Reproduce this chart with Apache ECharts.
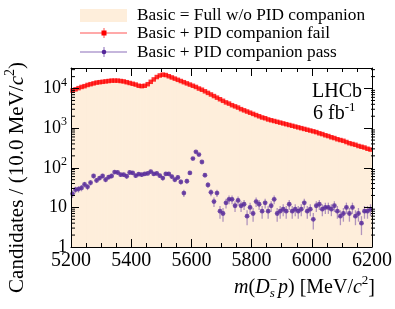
<!DOCTYPE html>
<html><head><meta charset="utf-8">
<script src="https://cdn.jsdelivr.net/npm/echarts@6/dist/echarts.min.js"></script>
<style>html,body{margin:0;padding:0;background:#fff}#c{width:395px;height:309px}</style>
</head><body><div id="c"></div>
<script>
// ---- data ----
const BIN_LO = 5200, BIN_W = 10;
const xTicks = [5200, 5400, 5600, 5800, 6000, 6200];
const yTickLabels = ['1', '10', '10^2', '10^3', '10^4'];
const seriesNames = ['Basic = Full w/o PID companion', 'Basic + PID companion fail', 'Basic + PID companion pass'];
const failCounts = [
 8913, 9550, 10233, 10965, 11482, 12303, 12882, 13490, 14125, 14454,
 14791, 15136, 15488, 15849, 15849, 15849, 15488, 15136, 14454, 13804,
 13183, 12589, 11749, 11482, 11749, 12882, 14791, 16982, 19498, 21380,
 22387, 21878, 20417, 19055, 17783, 16596, 15488, 14454, 13490, 12589,
 11749, 10965, 10000, 9333, 8511, 7762, 7079, 6457, 5888, 5370,
 4898, 4467, 4169, 3802, 3548, 3311, 3020, 2818, 2630, 2455,
 2291, 2138, 1995, 1862, 1778, 1660, 1585, 1514, 1445, 1380,
 1318, 1259, 1202, 1148, 1096, 1047, 1000, 955, 912, 871,
 832, 794, 741, 708, 661, 631, 589, 562, 525, 501,
 479, 447, 417, 398, 380, 355, 339, 324, 302, 288];
const passCounts = [
 22, 28, 29, 31, 38, 33, 42, 62, 48, 55,
 62, 50, 58, 62, 78, 76, 67, 67, 61, 76,
 74, 63, 69, 67, 70, 72, 80, 70, 72, 63,
 55, 70, 70, 60, 50, 57, 44, 23, 46, 74,
 171, 252, 215, 140, 65, 37, 24, 14, 23, 8,
 7, 13, 16, 16, 11, 15, 11, 12, 6, 10,
 7, 14, 12, 8, 13, 8, 11, 16, 7, 8,
 9, 8, 12, 8, 9, 8, 9, 13, 8, 9,
 5, 11, 12, 9, 10, 10, 9, 11, 8, 6,
 7, 10, 7, 10, 6, 7, 4, 8, 8, 9];

// ---- derived ----
const bins = failCounts.map((_, i) => BIN_LO + BIN_W * (i + 0.5));
const basicCounts = failCounts.map((v, i) => v + passCounts[i]);
const yMinor = [];
for (let k = 0; k <= 4; k++) for (let m = 2; m <= 9; m++) { const v = m * Math.pow(10, k); if (v < 33000) yMinor.push(v); }

const FONT = 'Liberation Serif';
const FILL = '#feeedb', RED = '#ff0000', PUR = '#55289a', PUR_L = 'rgba(85,40,154,0.45)';
const X0 = 71, X1 = 375;

// text measuring for composed titles
const mctx = document.createElement('canvas').getContext('2d');
function tw(txt, font) { mctx.font = font; return mctx.measureText(txt).width; }

const chart = echarts.init(document.getElementById('c'), null, {renderer: 'canvas'});

function yLabel(v) {
  const e = Math.round(Math.log10(v));
  const s = yTickLabels[e];
  if (!s) return '';
  if (s.indexOf('^') < 0) return '{b|' + s + '}';
  const p = s.split('^');
  return '{b|' + p[0] + '}{s|' + p[1] + '}';
}
const yRich = {b: {fontFamily: FONT, fontSize: 18, color: '#000'}, s: {fontFamily: FONT, fontSize: 12, color: '#000', padding: [0, 0, 12, 0]}};

const axisCommonX = {
  type: 'value', min: 5200, max: 6200, interval: 200, z: 10,
  axisLine: {show: true, onZero: false, lineStyle: {color: '#000', width: 1}},
  axisTick: {show: true, inside: true, length: 8, lineStyle: {color: '#000', width: 1}},
  minorTick: {show: true, splitNumber: 4, length: 4, lineStyle: {color: '#000', width: 1}},
  splitLine: {show: false}, minorSplitLine: {show: false}
};
const axisCommonY = {
  type: 'log', logBase: 10, min: 1, max: 33000, z: 10,
  axisLine: {show: true, onZero: false, lineStyle: {color: '#000', width: 1}},
  axisTick: {show: true, inside: true, length: 8, lineStyle: {color: '#000', width: 1}},
  minorTick: {show: false}, splitLine: {show: false}
};

// x-axis title composed right-to-left from x = X1
const XT_FS = 20, XT_Y = 288;
const fN = XT_FS + 'px "Liberation Serif"', fI = 'italic ' + XT_FS + 'px "Liberation Serif"';
const fSup = '13px "Liberation Serif"', fSubI = 'italic 13px "Liberation Serif"';
const xTitleParts = [
  {t: ']', f: fN, dy: 0}, {t: '2', f: fSup, dy: -7}, {t: 'c', f: fI, dy: 0},
  {t: ') [MeV/', f: fN, dy: 0}, {t: 'p', f: fI, dy: 0}
];
const xTitleGraphics = [];
let cx = X1;
xTitleParts.forEach(p => { cx -= tw(p.t, p.f); xTitleGraphics.push({type: 'text', x: cx, y: XT_Y + p.dy, style: {text: p.t, font: p.f, fill: '#000', verticalAlign: 'middle'}}); });
const wSS = Math.max(tw('s', fSubI), tw('\u2212', fSup)) + 1;
cx -= wSS;
xTitleGraphics.push({type: 'text', x: cx, y: XT_Y + 6, style: {text: 's', font: fSubI, fill: '#000', verticalAlign: 'middle'}});
xTitleGraphics.push({type: 'text', x: cx, y: XT_Y - 7, style: {text: '\u2212', font: fSup, fill: '#000', verticalAlign: 'middle'}});
[{t: 'D', f: fI}, {t: '(', f: fN}, {t: 'm', f: fI}].forEach(p => { cx -= tw(p.t, p.f); xTitleGraphics.push({type: 'text', x: cx, y: XT_Y, style: {text: p.t, font: p.f, fill: '#000', verticalAlign: 'middle'}}); });

const LEG_F = '17.3px "Liberation Serif"';

const option = {
  animation: false,
  grid: {left: X0, right: 395 - X1, top: 68, bottom: 62, show: false},
  xAxis: [
    Object.assign({}, axisCommonX, {position: 'bottom',
      axisLabel: {fontFamily: FONT, fontSize: 20, color: '#000', margin: 4,
        formatter: v => xTicks.indexOf(v) >= 0 ? String(v) : ''}}),
    Object.assign({}, axisCommonX, {position: 'top', axisLabel: {show: false}})
  ],
  yAxis: [
    Object.assign({}, axisCommonY, {position: 'left',
      axisLabel: {margin: 4, showMaxLabel: false, formatter: yLabel, rich: yRich}}),
    Object.assign({}, axisCommonY, {position: 'right', axisLabel: {show: false}})
  ],
  series: [
    {
      name: seriesNames[0], type: 'custom', z: 1, silent: true,
      data: bins.map((b, i) => [b, basicCounts[i]]),
      renderItem: (params, api) => {
        const xc = api.value(0), v = api.value(1);
        const p0 = api.coord([xc - BIN_W / 2, v]);
        const p1 = api.coord([xc + BIN_W / 2, 1]);
        return {type: 'rect', shape: {x: p0[0], y: p0[1], width: p1[0] - p0[0] + 0.6, height: p1[1] - p0[1]},
          style: {fill: FILL}};
      }
    },
    {
      name: seriesNames[1], type: 'scatter', z: 3, symbol: 'rect', symbolSize: 4.5,
      itemStyle: {color: RED}, data: bins.map((b, i) => [b, failCounts[i]])
    },
    {
      name: seriesNames[2] + ' err', type: 'custom', z: 4, silent: true,
      data: bins.map((b, i) => [b, passCounts[i]]),
      renderItem: (params, api) => {
        const xc = api.value(0), v = api.value(1), e = Math.sqrt(v);
        const lo = Math.max(v - e, 1.0001);
        const pt = api.coord([xc, v + e]), pb = api.coord([xc, lo]);
        const pl = api.coord([xc - BIN_W / 2, v]), pr = api.coord([xc + BIN_W / 2, v]);
        return {type: 'group', children: [
          {type: 'line', shape: {x1: pt[0], y1: pt[1], x2: pb[0], y2: pb[1]}, style: {stroke: PUR_L, lineWidth: 1.3}},
          {type: 'line', shape: {x1: pl[0], y1: pl[1], x2: pr[0], y2: pr[1]}, style: {stroke: PUR_L, lineWidth: 1.3}}
        ]};
      }
    },
    {
      name: seriesNames[2], type: 'scatter', z: 5, symbol: 'circle', symbolSize: 4.8,
      itemStyle: {color: PUR}, data: bins.map((b, i) => [b, passCounts[i]])
    },
    {
      name: 'yminor', type: 'custom', z: 20, silent: true,
      data: yMinor.map(v => [5200, v]),
      renderItem: (params, api) => {
        const p = api.coord([5200, api.value(1)]);
        return {type: 'group', children: [
          {type: 'line', shape: {x1: X0, y1: p[1], x2: X0 + 4, y2: p[1]}, style: {stroke: '#000', lineWidth: 1}},
          {type: 'line', shape: {x1: X1 - 4, y1: p[1], x2: X1, y2: p[1]}, style: {stroke: '#000', lineWidth: 1}}
        ]};
      }
    }
  ],
  graphic: [
    // legend
    {type: 'rect', shape: {x: 80, y: 9, width: 47, height: 13}, style: {fill: FILL}},
    {type: 'line', shape: {x1: 80, y1: 33, x2: 127, y2: 33}, style: {stroke: 'rgba(255,0,0,0.45)', lineWidth: 1.5}},
    {type: 'line', shape: {x1: 104, y1: 28, x2: 104, y2: 38}, style: {stroke: 'rgba(255,0,0,0.45)', lineWidth: 1.5}},
    {type: 'rect', shape: {x: 101.5, y: 30.5, width: 5, height: 5}, style: {fill: RED}},
    {type: 'line', shape: {x1: 80, y1: 52, x2: 127, y2: 52}, style: {stroke: PUR_L, lineWidth: 1.5}},
    {type: 'line', shape: {x1: 104, y1: 47, x2: 104, y2: 57}, style: {stroke: PUR_L, lineWidth: 1.5}},
    {type: 'circle', shape: {cx: 104, cy: 52, r: 2.3}, style: {fill: PUR}},
    {type: 'text', x: 137, y: 15, style: {text: seriesNames[0], font: LEG_F, fill: '#000', verticalAlign: 'middle'}},
    {type: 'text', x: 137, y: 33, style: {text: seriesNames[1], font: LEG_F, fill: '#000', verticalAlign: 'middle'}},
    {type: 'text', x: 137, y: 52, style: {text: seriesNames[2], font: LEG_F, fill: '#000', verticalAlign: 'middle'}},
    // LHCb label
    {type: 'text', x: 312, y: 92, z: 30, style: {text: 'LHCb', font: '20px "Liberation Serif"', fill: '#000', verticalAlign: 'middle'}},
    {type: 'text', x: 313, y: 114, z: 30, style: {text: '{a|6 fb}{s|-1}', verticalAlign: 'middle',
      rich: {a: {fontFamily: FONT, fontSize: 20, color: '#000'}, s: {fontFamily: FONT, fontSize: 13, color: '#000', padding: [0, 0, 12, 0]}}}},
    // y-axis title
    {type: 'text', x: 17, y: 62, rotation: Math.PI / 2, style: {
      text: '{a|Candidates / (10.0 MeV/}{i|c}{s|2}{a|)}', align: 'right', verticalAlign: 'middle',
      rich: {a: {fontFamily: FONT, fontSize: 21, color: '#000'}, i: {fontFamily: FONT, fontStyle: 'italic', fontSize: 21, color: '#000'},
             s: {fontFamily: FONT, fontSize: 14, color: '#000', padding: [0, 0, 13, 0]}}}}
  ].concat(xTitleGraphics)
};
chart.setOption(option);
</script>
</body></html>
